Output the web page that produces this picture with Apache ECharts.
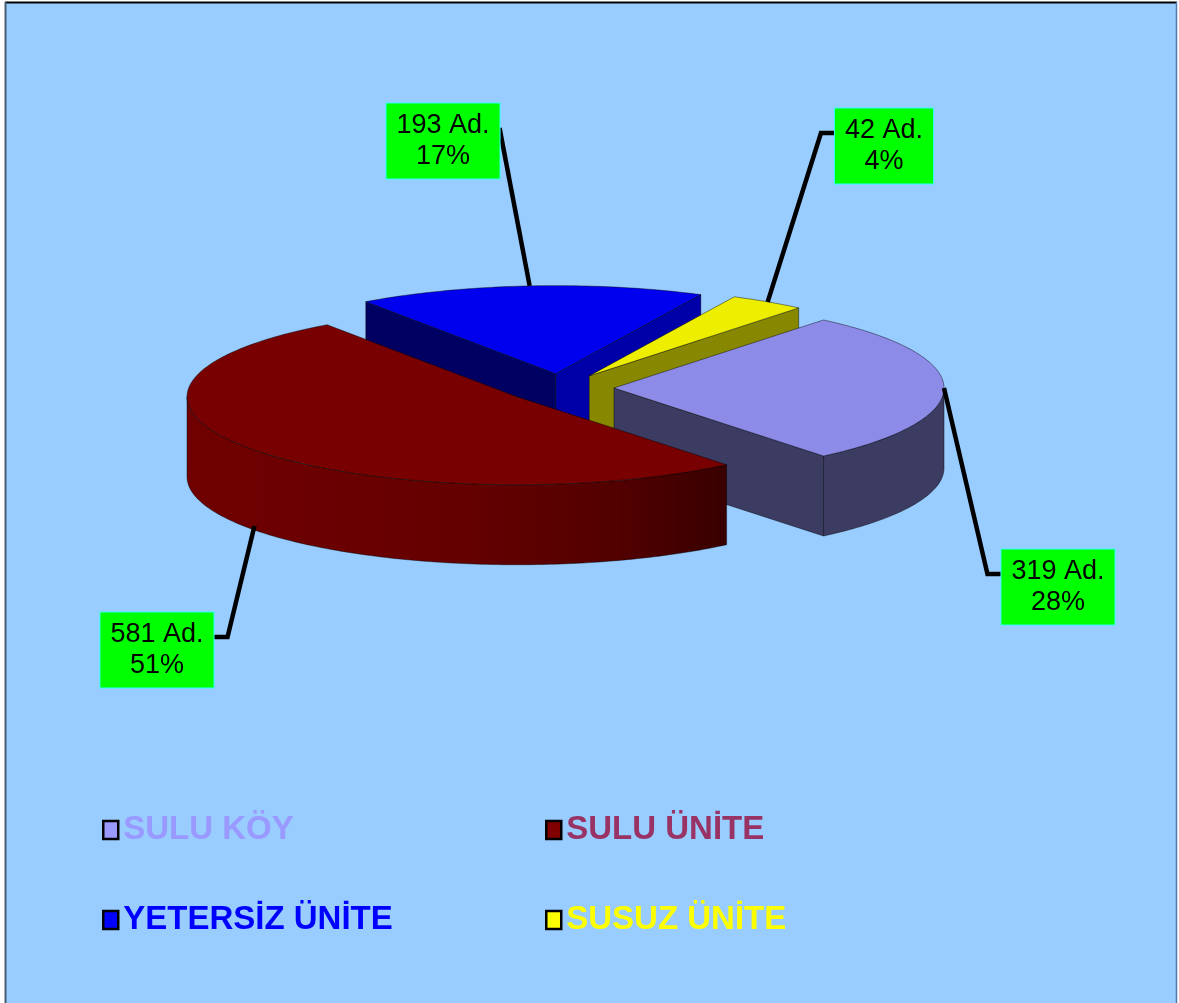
<!DOCTYPE html>
<html>
<head>
<meta charset="utf-8">
<script src="https://cdn.jsdelivr.net/npm/echarts@6.0.0/dist/echarts.min.js"></script>
<style>
  html, body { margin: 0; padding: 0; background: #fff; }
  #chart { width: 1179px; height: 1003px; }
</style>
</head>
<body>
<div id="chart"></div>
<script>
// data
var categories = ['SULU KÖY', 'SULU ÜNİTE', 'YETERSİZ ÜNİTE', 'SUSUZ ÜNİTE'];
var counts = [319, 581, 193, 42];
var unitSuffix = ' Ad.';

// colours
var topColors = ['#8c8ce8', '#780000', '#0000ee', '#eeee00'];
var sideStops = [
  [[0, '#3c3c62'], [1, '#3c3c62']],
  [[0, '#700000'], [0.5, '#650000'], [0.8, '#520000'], [1, '#380000']],
  [[0, '#000070'], [1, '#0000a0']],
  [[0, '#888800'], [1, '#888800']]
];
var cutLoColors = ['#3c3c62', '#500000', '#0000a8', '#888800'];
var cutHiColors = ['#3c3c62', '#500000', '#000062', '#888800'];
var legendIconColors = ['#9999ff', '#800000', '#0000ff', '#ffff00'];
var legendTextColors = ['#9999ff', '#993366', '#0000ff', '#ffff00'];

// label boxes (centres) and leader elbows
var labelCenters = [[1058, 587], [157, 650], [443, 141], [884, 146]];
var labelElbow = [14, 14, 0, 14];

// tilted pie geometry
var CX = 560, CY = 388, RX = 330, RY = 88, DEPTH = 80, EXPLODE = 54;
var FIRST_SLICE_ANGLE = 39.4; // clockwise from 12 o'clock
var FONT = '"Liberation Sans", Arial, sans-serif';

var total = counts.reduce(function (a, b) { return a + b; }, 0);
var rad = Math.PI / 180;

var slices = [];
var cum = 0;
counts.forEach(function (v) {
  var span = v / total * 360;
  var hi = 90 - FIRST_SLICE_ANGLE - cum;
  var lo = hi - span;
  var mid = (hi + lo) / 2;
  slices.push({
    lo: lo, hi: hi, mid: mid,
    ox: CX + EXPLODE * Math.cos(mid * rad),
    oy: CY - EXPLODE * (RY / RX) * Math.sin(mid * rad)
  });
  cum += span;
});

function pt(s, a, z) {
  return [s.ox + RX * Math.cos(a * rad), s.oy - RY * Math.sin(a * rad) + (z || 0)];
}
function arc(s, a, b, z) {
  var pts = [];
  var n = Math.max(2, Math.ceil(Math.abs(b - a)));
  for (var j = 0; j <= n; j++) pts.push(pt(s, a + (b - a) * j / n, z));
  return pts;
}
// angle ranges where the rim faces the viewer
function frontRuns(lo, hi) {
  var runs = [];
  for (var n = -2; n <= 2; n++) {
    var st = Math.max(lo, -180 + 360 * n), en = Math.min(hi, 360 * n);
    if (en > st) runs.push([st, en]);
  }
  return runs;
}

var edge = { stroke: 'rgba(0,0,0,0.55)', lineWidth: 0.8, lineJoin: 'round' };
function face(points, fill) {
  return { type: 'polygon', shape: { points: points },
    style: Object.assign({ fill: fill }, edge) };
}

function renderSlice(params, api) {
  var i = params.seriesIndex;
  var s = slices[i];
  var apex = [s.ox, s.oy], apexB = [s.ox, s.oy + DEPTH];
  var children = [];
  if (Math.cos(s.lo * rad) > 0) {
    children.push(face([apex, pt(s, s.lo), pt(s, s.lo, DEPTH), apexB], cutLoColors[i]));
  }
  if (Math.cos(s.hi * rad) < 0) {
    children.push(face([apex, pt(s, s.hi), pt(s, s.hi, DEPTH), apexB], cutHiColors[i]));
  }
  frontRuns(s.lo, s.hi).forEach(function (r) {
    var pts = arc(s, r[0], r[1], 0).concat(arc(s, r[1], r[0], DEPTH));
    var fill = { type: 'linear', x: 0, y: 0, x2: 1, y2: 0,
      colorStops: sideStops[i].map(function (c) { return { offset: c[0], color: c[1] }; }) };
    children.push(face(pts, fill));
  });
  children.push(face([apex].concat(arc(s, s.lo, s.hi, 0)), topColors[i]));
  return { type: 'group', children: children };
}

var measure = document.createElement('canvas').getContext('2d');
measure.font = '27px ' + FONT;

function renderLabel(params, api) {
  var i = params.dataIndex;
  var s = slices[i];
  var v = api.value(0);
  var pct = Math.round(v / total * 100) + '%';
  var lines = [v + unitSuffix, pct];
  var w = Math.max(measure.measureText(lines[0]).width, measure.measureText(lines[1]).width);
  var halfW = w / 2 + 10;
  var c = labelCenters[i];
  var m = s.mid * rad;
  var ax = s.ox + RX * Math.cos(m);
  var ay = s.oy - RY * Math.sin(m) + (Math.sin(m) < -0.1 ? DEPTH * 0.95 : 0);
  var dir = ax > c[0] ? 1 : -1;
  var attX = c[0] + dir * halfW, attY = c[1] - 13;
  return {
    type: 'group',
    children: [
      { type: 'polyline',
        shape: { points: [[ax, ay], [attX + dir * labelElbow[i], attY], [attX, attY]] },
        style: { stroke: '#000', lineWidth: 4.5, fill: null, lineJoin: 'miter' } },
      { type: 'text', x: c[0], y: c[1],
        style: {
          text: lines.join('\n'), fontSize: 27, fontFamily: FONT, fill: '#000',
          align: 'center', verticalAlign: 'middle', lineHeight: 31,
          backgroundColor: '#00ff00', borderColor: '#33ffff', borderWidth: 1,
          padding: [7, 10, 6, 10]
        } }
    ]
  };
}

// draw back slices first
var depthRank = slices.map(function (s, i) { return i; })
  .sort(function (a, b) { return Math.sin(slices[b].mid * rad) - Math.sin(slices[a].mid * rad); });

var series = categories.map(function (name, i) {
  return {
    type: 'custom', name: name, coordinateSystem: 'none',
    z: 2 + depthRank.indexOf(i),
    itemStyle: { color: legendIconColors[i] },
    data: [[counts[i]]],
    renderItem: renderSlice
  };
});
series.push({
  type: 'custom', name: 'etiket', coordinateSystem: 'none', z: 20,
  data: counts.map(function (v) { return [v]; }),
  renderItem: renderLabel
});

function legendItem(i) {
  return { name: categories[i], textStyle: { color: legendTextColors[i] },
    itemStyle: { color: legendIconColors[i] } };
}
var legendBase = {
  orient: 'vertical', top: 808, itemWidth: 15, itemHeight: 18, itemGap: 56,
  icon: 'rect', selectedMode: false,
  itemStyle: { borderColor: '#000', borderWidth: 2.5 },
  textStyle: { fontSize: 33, fontWeight: 'bold', fontFamily: FONT, lineHeight: 34 }
};

var chart = echarts.init(document.getElementById('chart'));
chart.setOption({
  animation: false,
  backgroundColor: '#ffffff',
  graphic: [
    { type: 'rect', z: -10, shape: { x: 6, y: 3, width: 1170, height: 1010 },
      style: { fill: '#99ccff' } },
    { type: 'line', z: -9, shape: { x1: 5, y1: 2.5, x2: 1177, y2: 2.5 },
      style: { stroke: '#000', lineWidth: 2 } },
    { type: 'line', z: -9, shape: { x1: 5.5, y1: 2, x2: 5.5, y2: 1003 },
      style: { stroke: '#4a5f73', lineWidth: 2 } },
    { type: 'line', z: -9, shape: { x1: 1176.5, y1: 2, x2: 1176.5, y2: 1003 },
      style: { stroke: '#5577aa', lineWidth: 1.5 } }
  ],
  legend: [
    Object.assign({ left: 97, data: [legendItem(0), legendItem(2)] }, legendBase),
    Object.assign({ left: 540, data: [legendItem(1), legendItem(3)] }, legendBase)
  ],
  series: series
});
window.onresize = function () { chart.resize(); };
</script>
</body>
</html>
